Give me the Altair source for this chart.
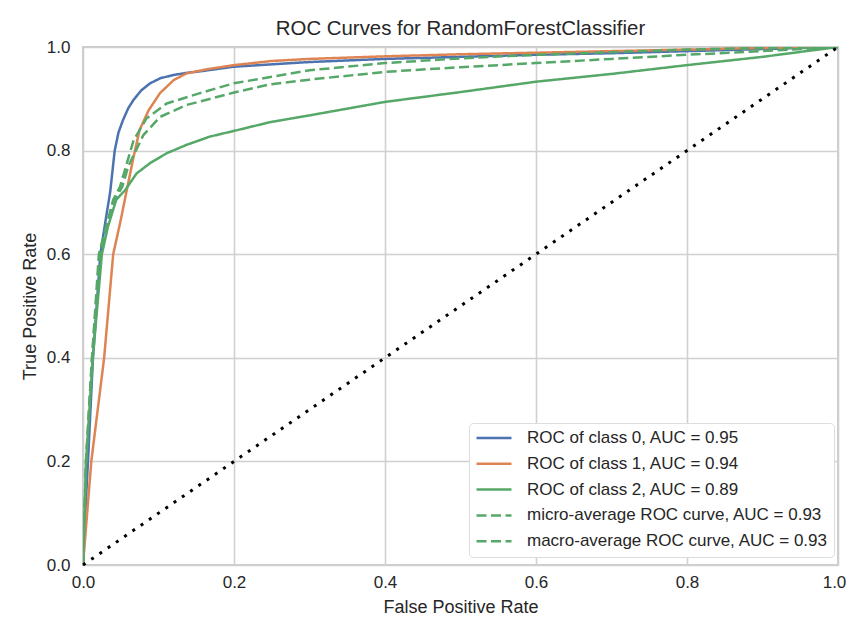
import altair as alt
import pandas as pd

SERIES = [
    "ROC of class 0, AUC = 0.95",
    "ROC of class 1, AUC = 0.94",
    "ROC of class 2, AUC = 0.89",
    "micro-average ROC curve, AUC = 0.93",
    "macro-average ROC curve, AUC = 0.93",
]
COLORS = ["#4C72B0", "#DD8452", "#55A868", "#55A868", "#55A868"]
DASHES = [[1, 0], [1, 0], [1, 0], [10, 4.5], [10, 4.5]]

FPR_0 = [0.0, 0.003, 0.0066, 0.0132, 0.023, 0.030, 0.036, 0.042, 0.047, 0.053, 0.060, 0.067, 0.077, 0.089, 0.103, 0.12, 0.137, 0.155, 0.2, 0.3, 0.4, 0.5, 0.6, 0.7, 0.8, 0.9, 1.0]
TPR_0 = [0.0, 0.1, 0.2, 0.4, 0.6, 0.666, 0.72, 0.80, 0.835, 0.859, 0.882, 0.898, 0.916, 0.930, 0.940, 0.946, 0.950, 0.953, 0.962, 0.971, 0.977, 0.981, 0.985, 0.988, 0.992, 0.996, 1.0]

FPR_1 = [0.0, 0.011, 0.028, 0.040, 0.050, 0.058, 0.067, 0.075, 0.087, 0.102, 0.12, 0.137, 0.164, 0.2, 0.25, 0.3, 0.4, 0.5, 0.6, 0.7, 0.8, 0.9, 1.0]
TPR_1 = [0.0, 0.2, 0.4, 0.6, 0.666, 0.724, 0.788, 0.84, 0.878, 0.911, 0.936, 0.949, 0.957, 0.965, 0.973, 0.977, 0.982, 0.986, 0.989, 0.992, 0.995, 0.998, 1.0]

FPR_2 = [0.0, 0.004, 0.013, 0.025, 0.033, 0.044, 0.056, 0.071, 0.089, 0.111, 0.137, 0.168, 0.2, 0.248, 0.3, 0.4, 0.5, 0.6, 0.7, 0.8, 0.9, 1.0]
TPR_2 = [0.0, 0.2, 0.4, 0.6, 0.653, 0.705, 0.724, 0.756, 0.776, 0.795, 0.811, 0.827, 0.838, 0.855, 0.868, 0.894, 0.913, 0.933, 0.948, 0.965, 0.981, 1.0]

FPR_MICRO = [0.0, 0.004, 0.012, 0.021, 0.040, 0.049, 0.067, 0.084, 0.111, 0.155, 0.2, 0.248, 0.3, 0.4, 0.5, 0.6, 0.7, 0.8, 0.9, 1.0]
TPR_MICRO = [0.0, 0.2, 0.4, 0.6, 0.705, 0.730, 0.820, 0.862, 0.891, 0.911, 0.930, 0.942, 0.955, 0.969, 0.978, 0.985, 0.990, 0.995, 0.998, 1.0]

FPR_MACRO = [0.0, 0.004, 0.012, 0.022, 0.040, 0.052, 0.060, 0.070, 0.080, 0.102, 0.137, 0.2, 0.248, 0.3, 0.4, 0.5, 0.6, 0.7, 0.8, 0.9, 1.0]
TPR_MACRO = [0.0, 0.2, 0.4, 0.6, 0.70, 0.73, 0.77, 0.80, 0.830, 0.865, 0.888, 0.912, 0.928, 0.937, 0.952, 0.961, 0.969, 0.977, 0.985, 0.992, 1.0]

DIAG_X = [0.0, 1.0]
DIAG_Y = [0.0, 1.0]
TICKS = [0.0, 0.2, 0.4, 0.6, 0.8, 1.0]

FONT = "Liberation Sans"
TEXT = "#262626"

rows = []
for name, xs, ys in zip(
    SERIES,
    [FPR_0, FPR_1, FPR_2, FPR_MICRO, FPR_MACRO],
    [TPR_0, TPR_1, TPR_2, TPR_MICRO, TPR_MACRO],
):
    for i, (a, b) in enumerate(zip(xs, ys)):
        rows.append({"series": name, "fpr": a, "tpr": b, "idx": i})
df = pd.DataFrame(rows)
diag = pd.DataFrame({"fpr": DIAG_X, "tpr": DIAG_Y})

xscale = alt.Scale(domain=[0, 1], nice=False, zero=False)
yscale = alt.Scale(domain=[0, 1], nice=False, zero=False)

xaxis = alt.Axis(
    title="False Positive Rate", values=TICKS, format=".1f",
    labelOffset={"condition": {"test": "datum.value >= 1", "value": -4}, "value": 0},
)
yaxis = alt.Axis(title="True Positive Rate", values=TICKS, format=".1f")

curves = alt.Chart(df).mark_line(strokeWidth=2.5, clip=True).encode(
    x=alt.X("fpr:Q", scale=xscale, axis=xaxis),
    y=alt.Y("tpr:Q", scale=yscale, axis=yaxis),
    color=alt.Color("series:N", scale=alt.Scale(domain=SERIES, range=COLORS), title=None),
    strokeDash=alt.StrokeDash("series:N", scale=alt.Scale(domain=SERIES, range=DASHES), title=None),
    order="idx:Q",
)

diagonal = alt.Chart(diag).mark_line(
    color="black", strokeWidth=3, strokeDash=[3, 7], strokeCap="butt"
).encode(
    x=alt.X("fpr:Q", scale=xscale),
    y=alt.Y("tpr:Q", scale=yscale),
)

chart = (
    alt.layer(curves, diagonal)
    .properties(
        width=755,
        height=518,
        autosize=alt.AutoSizeParams(type="none"),
        padding={"left": 75, "top": 39, "right": 8, "bottom": 52},
        title=alt.TitleParams(
            "ROC Curves for RandomForestClassifier",
            fontSize=20.4, fontWeight="normal", font=FONT, color=TEXT,
            anchor="middle", offset=-1,
        ),
        background="white",
    )
    .configure_view(stroke="#cccccc", strokeWidth=2, fill="white")
    .configure_axis(
        labelFont=FONT, titleFont=FONT, labelColor=TEXT, titleColor=TEXT,
        labelFontSize=17, titleFontSize=18, titleFontWeight="normal",
        grid=True, gridColor="#d0d0d0", gridWidth=1.6,
        ticks=False, domain=False, labelFlush=False,
    )
    .configure_axisX(labelPadding=9, titlePadding=8)
    .configure_axisY(labelPadding=13, titlePadding=7)
    .configure_legend(
        orient="none", legendX=386, legendY=376,
        labelFont=FONT, labelFontSize=17, labelColor=TEXT,
        symbolType="stroke", symbolSize=1225, symbolStrokeWidth=2.5,
        labelOffset=14, padding=6, rowPadding=7.8, clipHeight=18,
        fillColor="white", strokeColor="#dddddd", cornerRadius=4,
        labelLimit=400,
    )
)

chart.save("out.html", embed_options={"renderer": "svg", "actions": False})
